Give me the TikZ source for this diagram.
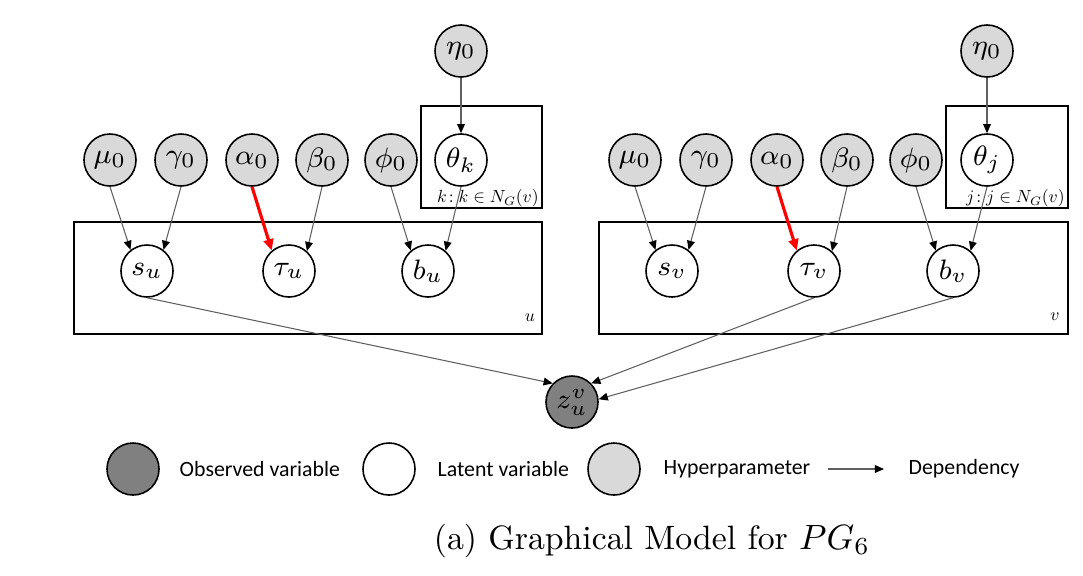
\documentclass[tikz,border=0pt]{standalone}
\usepackage{fontspec}
\newfontfamily\legendfont{Carlito}
\usetikzlibrary{arrows.meta}
\definecolor{hypergray}{RGB}{217,217,217}
\definecolor{obsgray}{RGB}{128,128,128}
\definecolor{edgegray}{RGB}{95,95,95}

\tikzset{
  var/.style={circle,draw,line width=0.45pt,minimum size=0.52cm,inner sep=0pt,font=\fontsize{8.5}{10}\selectfont},
  hyper/.style={var,fill=hypergray},
  latent/.style={var,fill=white},
  observed/.style={var,fill=obsgray},
  dep/.style={draw=edgegray,line width=0.3pt,-{Triangle[length=2.6pt,width=2.2pt,color=black]}},
  keydep/.style={draw=red,line width=0.9pt,-{Triangle[length=3.2pt,width=2.8pt]}},
  plate/.style={draw,line width=0.5pt},
  platelabel/.style={font=\fontsize{10}{12}\selectfont,inner sep=0pt,scale=0.5,transform shape},
  legendtext/.style={font=\legendfont\fontsize{6.2}{7}\selectfont,anchor=west,inner sep=0pt}
}

\begin{document}
\begin{tikzpicture}[x=0.01cm,y=-0.01cm]
\useasboundingbox (0,0) rectangle (1083,575);

% plates
\draw[plate] (74,222) rectangle (542,334);
\draw[plate] (421,106) rectangle (542,208);
\draw[plate] (599,222) rectangle (1068,334);
\draw[plate] (946,106) rectangle (1068,208);
\node[platelabel] (ulabel) at (530,318) {$u$};
\node[platelabel,anchor=east] (klabel) at (539,198) {$k\!:k \in N_G(v)$};
\node[platelabel] (vlabel) at (1055,317) {$v$};
\node[platelabel,anchor=east] (jlabel) at (1065,198) {$j\!:j \in N_G(v)$};

% left group
\node[hyper] (eta0u) at (461,51) {$\eta_0$};
\node[hyper] (mu0u) at (110,160) {$\mu_0$};
\node[hyper] (gamma0u) at (181,160) {$\gamma_0$};
\node[hyper] (alpha0u) at (252,160) {$\alpha_0$};
\node[hyper] (beta0u) at (322,160) {$\beta_0$};
\node[hyper] (phi0u) at (391,160) {$\phi_0$};
\node[latent] (thetak) at (461,160) {$\theta_k$};
\node[latent] (su) at (147,271) {$s_u$};
\node[latent] (tauu) at (289,271) {$\tau_u$};
\node[latent] (bu) at (428,271) {$b_u$};

% right group
\node[hyper] (eta0v) at (987,51) {$\eta_0$};
\node[hyper] (mu0v) at (635,160) {$\mu_0$};
\node[hyper] (gamma0v) at (706,160) {$\gamma_0$};
\node[hyper] (alpha0v) at (777,160) {$\alpha_0$};
\node[hyper] (beta0v) at (847,160) {$\beta_0$};
\node[hyper] (phi0v) at (916,160) {$\phi_0$};
\node[latent] (thetaj) at (987,160) {$\theta_j$};
\node[latent] (sv) at (672,271) {$s_v$};
\node[latent] (tauv) at (814,271) {$\tau_v$};
\node[latent] (bv) at (953,271) {$b_v$};

\node[observed] (z) at (572,402) {$z_u^v$};

\draw[dep] (eta0u) -- (thetak);
\draw[dep] (mu0u.south) -- (su.128);
\draw[dep] (gamma0u.south) -- (su.52);
\draw[keydep] (alpha0u.south) -- (tauu.130);
\draw[dep] (beta0u.south) -- (tauu.48);
\draw[dep] (phi0u.south) -- (bu.130);
\draw[dep] (thetak.south) -- (bu.49);

\draw[dep] (eta0v) -- (thetaj);
\draw[dep] (mu0v.south) -- (sv.128);
\draw[dep] (gamma0v.south) -- (sv.52);
\draw[keydep] (alpha0v.south) -- (tauv.130);
\draw[dep] (beta0v.south) -- (tauv.48);
\draw[dep] (phi0v.south) -- (bv.130);
\draw[dep] (thetaj.south) -- (bv.49);

\draw[dep] (su.south) -- (z.136);
\draw[dep] (tauv.south) -- (z.44);
\draw[dep] (bv.south) -- (z.6);

% legend
\node[observed] (obsleg) at (133,469) {};
\node[legendtext] (obstext) at (179,469) {Observed variable};
\node[latent] (latleg) at (389,469) {};
\node[legendtext] (lattext) at (437,469) {Latent variable};
\node[hyper] (hypleg) at (614,469) {};
\node[legendtext] (hyptext) at (663,469) {Hyperparameter};
\coordinate (depstart) at (828,469);
\coordinate (depend) at (884,469);
\draw[dep] (depstart) -- (depend);
\node[legendtext] (deptext) at (908,469) {Dependency};

\node[font=\fontsize{9.6}{11}\selectfont] (caption) at (652,541) {(a) Graphical Model for $PG_6$};
\end{tikzpicture}
\end{document}
